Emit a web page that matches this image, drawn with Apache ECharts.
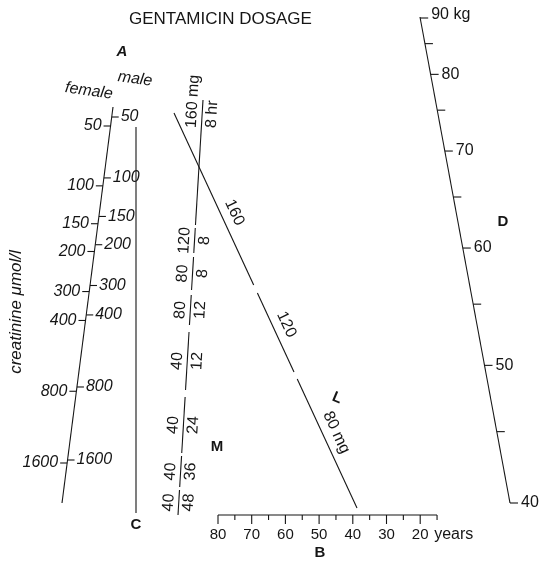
<!DOCTYPE html>
<html>
<head>
<meta charset="UTF-8">
<title>Gentamicin dosage</title>
<script src="https://cdn.jsdelivr.net/npm/echarts@6/dist/echarts.min.js"></script>
<style>
    html, body { margin: 0; padding: 0; background: #fff; }
    #container { width: 546px; height: 566px; }
</style>
</head>
<body>
<div id="container"></div>
<script>
    // values
    var creatinineTicks = [50, 100, 150, 200, 300, 400, 800, 1600];
    var weightTicks = [40, 45, 50, 55, 60, 65, 70, 75, 80, 85, 90];
    var ageTicks = [15, 20, 25, 30, 35, 40, 45, 50, 55, 60, 65, 70, 75, 80];
    var lineDoses = [160, 120, 80];
    var mDoses = [160, 120, 80, 80, 40, 40, 40, 40];
    var mIntervals = [8, 8, 8, 12, 12, 24, 36, 48];

    // layout of the scales (page pixels, y down)
    var FONT = "'Liberation Sans', Arial, sans-serif";
    var INK = '#151515';
    var femLine = { x1: 113, y1: 107, x2: 62, y2: 503 };
    var wLine = { x1: 420, y1: 17, x2: 510, y2: 503 };
    var mLine = { x1: 203, y1: 100, x2: 178, y2: 515 };
    var lLine = { x1: 174, y1: 113, x2: 357, y2: 508 };
    var mGaps = [[225, 228], [253, 257], [290, 295], [325, 332], [390, 397], [453, 456], [487, 490]];
    var mBars = [[100, 128], [228, 253], [257, 290], [295, 325], [332, 390], [397, 453], [456, 487], [490, 515]];
    var lGaps = [[285, 293], [372, 379]];
    var lLabelY = [218, 330, 438];

    function lineX(l, y) { return l.x1 + (y - l.y1) * (l.x2 - l.x1) / (l.y2 - l.y1); }
    function creatFrac(c) { return Math.log((c + 15) / 65) / Math.log(1615 / 65); }
    function weightY(w) { var u = 90 - w; return 18 + 4.62 * u + 0.1016 * u * u; }
    function ageX(a) { return 218 + (80 - a) * 3.37; }

    function seg(api, x1, y1, x2, y2) {
        var a = api.coord([x1, y1]), b = api.coord([x2, y2]);
        return { type: 'line', shape: { x1: a[0], y1: a[1], x2: b[0], y2: b[1] },
            style: { stroke: INK, lineWidth: 1.1 } };
    }
    function txt(api, x, y, s, o) {
        o = o || {};
        var p = api.coord([x, y]);
        return { type: 'text', x: p[0], y: p[1], rotation: o.rot || 0,
            style: { text: s, fill: INK, align: o.align || 'center', verticalAlign: 'middle',
                font: (o.italic ? 'italic ' : '') + (o.bold ? 'bold ' : '') + (o.size || 16) + 'px ' + FONT } };
    }
    function broken(api, l, gaps) {
        var out = [], y = l.y1;
        gaps.concat([[l.y2, l.y2]]).forEach(function (g) {
            out.push(seg(api, lineX(l, y), y, lineX(l, g[0]), g[0]));
            y = g[1];
        });
        return out;
    }

    var mycharts = echarts.init(document.getElementById('container'));

    var lAngle = Math.atan2(lLine.y2 - lLine.y1, lLine.x2 - lLine.x1);
    var mAngle = Math.atan2(mLine.x1 - mLine.x2, mLine.y2 - mLine.y1);

    var option = {
        animation: false,
        grid: { left: 0, right: 0, top: 0, bottom: 0 },
        xAxis: { type: 'value', min: 0, max: 546, show: false },
        yAxis: { type: 'value', min: 0, max: 566, inverse: true, show: false },
        title: {
            text: 'GENTAMICIN DOSAGE', left: 124, top: 6,
            textStyle: { fontFamily: FONT, fontWeight: 'normal', fontSize: 17, color: INK }
        },
        graphic: [
            { type: 'text', x: 122, y: 52, style: { text: 'A', font: 'italic bold 15px ' + FONT, fill: INK, align: 'center', verticalAlign: 'middle' } },
            { type: 'text', x: 135, y: 79, rotation: -0.14, style: { text: 'male', font: 'italic 16px ' + FONT, fill: INK, align: 'center', verticalAlign: 'middle' } },
            { type: 'text', x: 89, y: 91, rotation: -0.14, style: { text: 'female', font: 'italic 16px ' + FONT, fill: INK, align: 'center', verticalAlign: 'middle' } },
            { type: 'text', x: 16, y: 312, rotation: Math.PI / 2, style: { text: 'creatinine \u03bcmol/l', font: 'italic 17px ' + FONT, fill: INK, align: 'center', verticalAlign: 'middle' } },
            { type: 'text', x: 136, y: 525, style: { text: 'C', font: 'bold 15px ' + FONT, fill: INK, align: 'center', verticalAlign: 'middle' } },
            { type: 'text', x: 320, y: 553, style: { text: 'B', font: 'bold 15px ' + FONT, fill: INK, align: 'center', verticalAlign: 'middle' } },
            { type: 'text', x: 503, y: 222, style: { text: 'D', font: 'bold 15px ' + FONT, fill: INK, align: 'center', verticalAlign: 'middle' } },
            { type: 'text', x: 217, y: 447, style: { text: 'M', font: 'bold 15px ' + FONT, fill: INK, align: 'center', verticalAlign: 'middle' } },
            { type: 'text', x: 337, y: 398, rotation: -0.4, style: { text: 'L', font: 'bold 15px ' + FONT, fill: INK, align: 'center', verticalAlign: 'middle' } }
        ],
        series: [
            {
                // scale lines
                type: 'custom', silent: true, data: [[0, 0]],
                renderItem: function (params, api) {
                    var ch = [
                        seg(api, femLine.x1, femLine.y1, femLine.x2, femLine.y2),
                        seg(api, 136, 127, 136, 513),
                        seg(api, wLine.x1, wLine.y1, wLine.x2, wLine.y2),
                        seg(api, ageX(80), 515, ageX(15), 515)
                    ];
                    return { type: 'group', children: ch.concat(broken(api, mLine, mGaps), broken(api, lLine, lGaps)) };
                }
            },
            {
                // creatinine, female side
                type: 'custom', silent: true, data: creatinineTicks.map(function (v) { return [v]; }),
                renderItem: function (params, api) {
                    var c = api.value(0), y = 126 + creatFrac(c) * 337, x = lineX(femLine, y);
                    return { type: 'group', children: [
                        seg(api, x, y, x - 7, y),
                        txt(api, x - 9, y, String(c), { align: 'right', italic: true })
                    ] };
                }
            },
            {
                // creatinine, male side
                type: 'custom', silent: true, data: creatinineTicks.map(function (v) { return [v]; }),
                renderItem: function (params, api) {
                    var c = api.value(0), y = 117 + creatFrac(c) * 343, x = lineX(femLine, y);
                    return { type: 'group', children: [
                        seg(api, x, y, x + 7, y),
                        txt(api, x + 9, y, String(c), { align: 'left', italic: true })
                    ] };
                }
            },
            {
                // body weight
                type: 'custom', silent: true, data: weightTicks.map(function (v) { return [v]; }),
                renderItem: function (params, api) {
                    var w = api.value(0), y = weightY(w), x = lineX(wLine, y);
                    var ch = [seg(api, x, y, x + 8, y)];
                    if (w % 10 === 0) ch.push(txt(api, x + 11, w === 90 ? y - 3 : y, w === 90 ? '90 kg' : String(w), { align: 'left' }));
                    return { type: 'group', children: ch };
                }
            },
            {
                // age
                type: 'custom', silent: true, data: ageTicks.map(function (v) { return [v]; }),
                renderItem: function (params, api) {
                    var a = api.value(0), x = ageX(a), major = a % 10 === 0;
                    var ch = [seg(api, x, 515, x, 515 + (major ? 9 : 5))];
                    if (major) ch.push(txt(api, x, 535, String(a), { size: 15 }));
                    if (a === 20) ch.push(txt(api, x + 14, 535, 'years', { align: 'left', size: 16 }));
                    return { type: 'group', children: ch };
                }
            },
            {
                // dose / interval fractions on M
                type: 'custom', silent: true, data: mDoses.map(function (v, i) { return [v, mIntervals[i]]; }),
                renderItem: function (params, api) {
                    var i = params.dataIndex, b = mBars[i];
                    var first = i === 0;
                    var y = first ? b[1] : (b[0] + b[1]) / 2, x = lineX(mLine, y);
                    var rot = Math.PI / 2 - mAngle;
                    return { type: 'group', children: [
                        txt(api, x - 10, y, api.value(0) + (first ? ' mg' : ''), { rot: rot, align: first ? 'left' : 'center' }),
                        txt(api, x + 10, y, api.value(1) + (first ? ' hr' : ''), { rot: rot, align: first ? 'left' : 'center' })
                    ] };
                }
            },
            {
                // dose marks along L
                type: 'custom', silent: true, data: lineDoses.map(function (v) { return [v]; }),
                renderItem: function (params, api) {
                    var i = params.dataIndex, y = lLabelY[i], x = lineX(lLine, y);
                    var nx = Math.sin(lAngle), ny = -Math.cos(lAngle);
                    var s = api.value(0) + (i === lineDoses.length - 1 ? ' mg' : '');
                    return txt(api, x + nx * 13, y + ny * 13, s, { rot: -lAngle });
                }
            }
        ]
    };

    mycharts.setOption(option);
</script>
</body>
</html>
